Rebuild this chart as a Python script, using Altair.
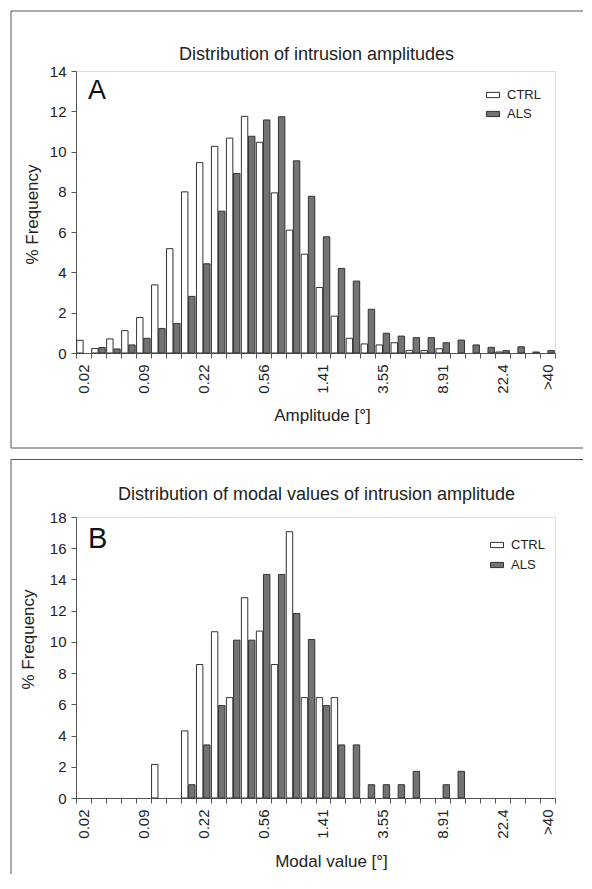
import altair as alt
import pandas as pd

# ---- data ----
bins = list(range(32))
tick_pos = [0, 4, 8, 12, 16, 20, 24, 28, 31]
tick_labels = ["0.02", "0.09", "0.22", "0.56", "1.41", "3.55", "8.91", "22.4", ">40"]
groups = ["CTRL", "ALS"]

ctrl_a = [0.63, 0.22, 0.70, 1.11, 1.76, 3.38, 5.18, 8.00, 9.45, 10.26, 10.67, 11.75,
          10.46, 7.95, 6.10, 4.91, 3.25, 1.83, 0.73, 0.45, 0.40, 0.51, 0.13, 0.12,
          0.21, 0.00, 0.00, 0.00, 0.05, 0.00, 0.00, 0.00]
als_a = [0.00, 0.27, 0.20, 0.40, 0.73, 1.22, 1.47, 2.81, 4.43, 7.04, 8.91, 10.76,
         11.57, 11.73, 9.54, 7.78, 5.77, 4.20, 3.57, 2.17, 0.98, 0.84, 0.76, 0.76,
         0.51, 0.64, 0.40, 0.28, 0.12, 0.31, 0.05, 0.12]

ctrl_b = [0, 0, 0, 0, 0, 2.15, 0, 4.30, 8.55, 10.65, 6.43, 12.83,
          10.69, 8.55, 17.06, 6.43, 6.43, 6.43, 0, 0, 0, 0, 0, 0,
          0, 0, 0, 0, 0, 0, 0, 0]
als_b = [0, 0, 0, 0, 0, 0, 0, 0.85, 3.40, 5.92, 10.11, 10.11,
         14.32, 14.32, 11.82, 10.15, 5.92, 3.40, 3.40, 0.85, 0.85, 0.85, 1.71, 0,
         0.85, 1.71, 0, 0, 0, 0, 0, 0]

FONT = "Liberation Sans"
TXT = "#222222"
FRAME = "#555555"


def long_table(ctrl, als):
    rows = []
    for i in bins:
        rows.append({"bin": i, "group": "CTRL", "pct": ctrl[i]})
        rows.append({"bin": i, "group": "ALS", "pct": als[i]})
    return pd.DataFrame(rows)


label_expr = "".join(
    f"datum.value == {p} ? '{l}' : " for p, l in zip(tick_pos, tick_labels)
) + "''"

W = 479
ONE = alt.Data(values=[{"k": 1}])


def hline(y, x1, x2):
    return alt.Chart(ONE).mark_rule(color=FRAME, strokeWidth=1).encode(
        x=alt.value(x1), x2=alt.value(x2), y=alt.value(y))


def vline(x, y1, y2):
    return alt.Chart(ONE).mark_rule(color=FRAME, strokeWidth=1).encode(
        x=alt.value(x), y=alt.value(y1), y2=alt.value(y2))


def panel(df, ymax, H, title_text, title_y, letter, letter_y, letter_size,
          xtitle, xtitle_x, xtitle_y, ytitle_x, ytitle_y,
          legend_x, legend_y, row_pad, frame_top, frame_bottom, bottom_line):
    frame = [hline(frame_top, -65, 507), vline(-65, frame_top, frame_bottom)]
    if bottom_line:
        frame.append(hline(frame_bottom, -65, 507))

    bars = alt.Chart(df).transform_filter("datum.pct > 0").mark_bar(
        stroke="#333333", strokeWidth=1
    ).encode(
        x=alt.X(
            "bin:O",
            scale=alt.Scale(domain=bins, paddingInner=0, paddingOuter=0),
            axis=alt.Axis(
                title=xtitle, labelExpr=label_expr, labelAngle=-90,
                tickBand="extent", labelOverlap=False, tickSize=5,
                labelPadding=6, labelFontSize=15, titleFontSize=17,
                titleFontWeight="normal", titleX=xtitle_x, titleY=xtitle_y,
                titleBaseline="alphabetic", titleAlign="center",
                domainColor="#555555", tickColor="#555555",
                labelColor=TXT, titleColor=TXT, labelFont=FONT, titleFont=FONT,
            ),
        ),
        xOffset=alt.XOffset(
            "group:N",
            scale=alt.Scale(domain=groups, paddingInner=0.1, paddingOuter=0.1),
        ),
        y=alt.Y(
            "pct:Q",
            scale=alt.Scale(domain=[0, ymax], nice=False),
            axis=alt.Axis(
                title="% Frequency", values=list(range(0, ymax + 1, 2)),
                grid=False, tickSize=5, labelPadding=5, labelFontSize=15,
                titleFontSize=17, titleFontWeight="normal",
                titleX=ytitle_x, titleY=ytitle_y, titleAngle=-90,
                titleBaseline="middle", titleAlign="center",
                domainColor="#555555", tickColor="#555555",
                labelColor=TXT, titleColor=TXT, labelFont=FONT, titleFont=FONT,
            ),
        ),
        fill=alt.Fill(
            "group:N",
            scale=alt.Scale(domain=groups, range=["#ffffff", "#737373"]),
            legend=alt.Legend(
                title=None, orient="none", legendX=legend_x, legendY=legend_y,
                symbolType="M-1,-0.4H1V0.4H-1Z", symbolSize=169,
                symbolStrokeColor="#333333", symbolStrokeWidth=1,
                labelFontSize=13, labelFont=FONT, labelColor=TXT,
                labelOffset=7, rowPadding=row_pad, padding=0,
            ),
        ),
    )

    title = alt.Chart(alt.Data(values=[{"t": title_text}])).mark_text(
        font=FONT, fontSize=18, color=TXT, align="center", baseline="alphabetic"
    ).encode(x=alt.value(240.5), y=alt.value(title_y), text="t:N")

    let = alt.Chart(alt.Data(values=[{"t": letter}])).mark_text(
        font=FONT, fontSize=letter_size, color="#111111", align="left",
        baseline="alphabetic"
    ).encode(x=alt.value(12), y=alt.value(letter_y), text="t:N")

    return alt.layer(*frame, bars, title, let).properties(width=W, height=H)


pA = panel(long_table(ctrl_a, als_a), 14, 282,
           "Distribution of intrusion amplitudes", -11, "A", 28, 27,
           "Amplitude [°]", 246, 67, -43.5, 143,
           410, 17, 5, -60, 377, True)

pB = panel(long_table(ctrl_b, als_b), 18, 281,
           "Distribution of modal values of intrusion amplitude", -17, "B", 31, 29,
           "Modal value [°]", 255, 68, -48, 122,
           414, 21, 6, -57.5, 357, False)

chart = alt.vconcat(pA, pB, spacing=9).resolve_scale(
    fill="independent", y="independent", x="independent"
).resolve_legend(fill="independent").properties(
    padding={"left": 2, "top": 2, "right": 0, "bottom": 0},
    background="white",
).configure_view(stroke="#888888", strokeWidth=1).configure(font=FONT)

chart.save("out.html", embed_options={"renderer": "svg", "actions": False})
